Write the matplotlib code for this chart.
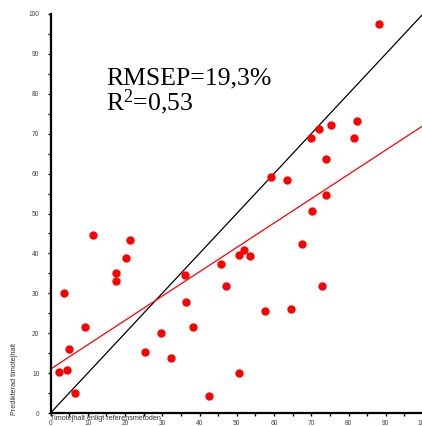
"""Predicted vs reference timothy content, with 1:1 line and fitted regression."""

import matplotlib

matplotlib.use("Agg")
import matplotlib.pyplot as plt
import numpy as np

plt.rcParams["mathtext.fontset"] = "custom"
plt.rcParams["mathtext.rm"] = "Liberation Serif"
plt.rcParams["mathtext.it"] = "Liberation Serif:italic"

# reference method (x) and predicted (y)
reference = [
    2.2, 3.7, 4.5, 5.0, 6.5, 9.2, 11.3, 17.7, 17.7, 20.2, 21.3,
    67.5, 50.5, 51.9, 53.5, 45.9, 36.1, 47.0, 72.9, 36.4, 57.5, 64.6,
    29.6, 38.3, 25.3, 32.4, 50.7, 42.6,
    88.3, 59.2, 63.4, 69.9, 72.1, 75.3, 82.4, 81.6, 74.0, 74.0, 70.2,
]
predicted = [
    10.2, 30.2, 10.7, 16.0, 4.9, 21.6, 44.5, 35.0, 33.2, 38.9, 43.3,
    42.3, 39.5, 40.8, 39.3, 37.3, 34.7, 31.9, 31.9, 27.8, 25.6, 26.1,
    20.0, 21.6, 15.2, 13.7, 9.9, 4.3,
    97.6, 59.1, 58.4, 69.0, 71.3, 72.3, 73.1, 69.0, 63.7, 54.6, 50.6,
]

fit_intercept = 11.0
fit_slope = 0.61
line_x = [0, 100]

major_ticks = list(range(0, 101, 10))
minor_ticks = list(range(0, 101, 5))

rmsep_text = "RMSEP=19,3%"
r2_text = "R$^2$=0,53"
x_label = "Timotejhalt enligt referensmetoden"
y_label = "Predikterad timotejhalt"

fig = plt.figure(figsize=(4.22, 4.26), dpi=100)
ax = fig.add_axes([50.5 / 422, 13 / 426, 372.5 / 422, 399 / 426])

ax.plot(line_x, line_x, color="black", lw=0.9, zorder=2)
fit_y = [fit_intercept + fit_slope * x for x in line_x]
ax.plot(line_x, fit_y, color="red", lw=0.9, zorder=2)
ax.plot(reference, predicted, "o", color="red", ms=6, mec="none", zorder=3, clip_on=False)

ax.set_xlim(0, 100)
ax.set_ylim(0, 100)

for side in ("top", "right"):
    ax.spines[side].set_visible(False)
for side in ("left", "bottom"):
    ax.spines[side].set_linewidth(1.6)

ax.set_xticks(minor_ticks)
ax.set_yticks(minor_ticks)
ax.set_xticklabels([str(t) if t % 10 == 0 else "" for t in minor_ticks])
ax.set_yticklabels([str(t) if t % 10 == 0 else "" for t in minor_ticks])
ax.tick_params(axis="both", direction="out", length=2.5, width=1.0,
               labelsize=4.8, labelcolor="#444444", colors="black")
ax.tick_params(axis="y", pad=5.5)
ax.tick_params(axis="x", pad=2.5)
for lbl in ax.get_xticklabels() + ax.get_yticklabels():
    lbl.set_family("Liberation Sans")

ax.text(0.150, 0.824, rmsep_text, transform=ax.transAxes, family="Liberation Serif",
        fontsize=18.5, va="baseline", ha="left")
ax.text(0.150, 0.759, r2_text, transform=ax.transAxes, family="Liberation Serif",
        fontsize=18.5, va="baseline", ha="left")

fig.text(50 / 422, 1 - 418 / 426, x_label, family="Liberation Sans", fontsize=5.2,
         color="#333333", ha="left", va="center")
fig.text(15 / 422, 1 - 415 / 426, y_label, family="Liberation Sans", fontsize=5.2,
         color="#333333", ha="center", va="bottom", rotation=90)

fig.savefig("out.png", dpi=100)
